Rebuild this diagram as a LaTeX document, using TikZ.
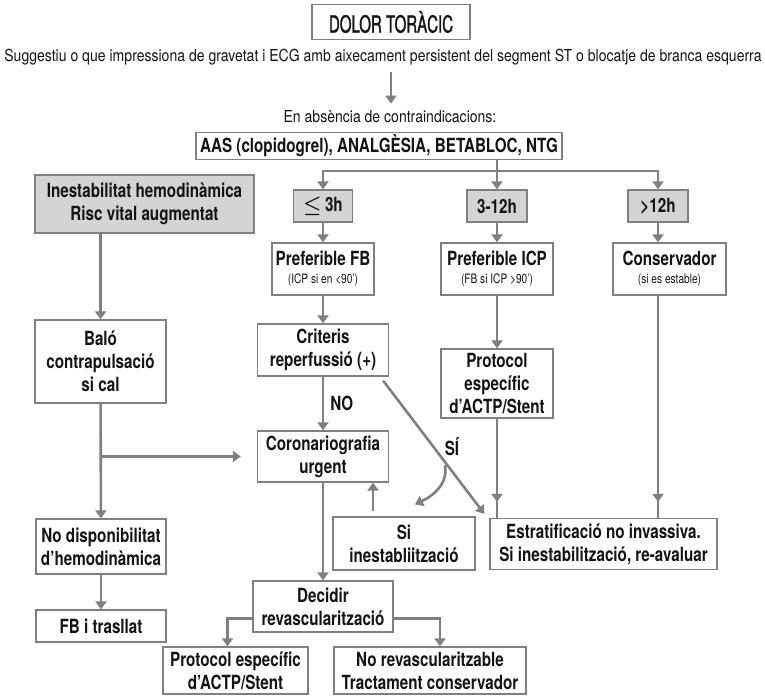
\documentclass[tikz,border=0pt]{standalone}
\usepackage{fontspec}
\setmainfont{TeX Gyre Heros}[FakeStretch=0.85]
\newfontfamily\boxfont{TeX Gyre Heros}[FakeStretch=0.78]
\newfontfamily\titlefont{TeX Gyre Heros}[FakeStretch=0.64, FakeBold=1.4]
\usetikzlibrary{arrows.meta, decorations.markings}
\definecolor{linegray}{RGB}{128,128,128}
\definecolor{boxgray}{RGB}{212,212,212}
\definecolor{ink}{RGB}{20,20,20}
\tikzset{
    box/.style = {draw=linegray, line width=1.3pt, fill=white, text=ink, align=center, inner sep=0pt,
        font=\boxfont\fontsize{19.5}{23}\selectfont\bfseries},
    shaded/.style = {box, fill=boxgray},
    plain/.style = {text=ink, inner sep=0pt, font=\fontsize{16.5}{18}\selectfont},
    tag/.style = {text=ink, inner sep=0pt, font=\boxfont\fontsize{19.5}{21}\selectfont\bfseries},
    link/.style = {draw=linegray, line width=2.6pt},
    flow/.style = {link, -{Triangle[width=11pt,length=8pt]}},
    midtip/.style = {link, postaction={decorate},
        decoration={markings, mark=at position #1 with {\arrow{Triangle[width=11pt,length=8pt]}}}},
}
\newcommand{\sm}[1]{{\fontsize{13}{14}\selectfont\mdseries #1}}

\begin{document}
\begin{tikzpicture}[x=1pt, y=-1pt]
    \useasboundingbox (0,0) rectangle (765,696);

    \node[box, font=\titlefont\fontsize{23.5}{25}\selectfont, minimum width=158pt, minimum height=35pt] (title) at (391,22) {DOLOR TORÀCIC};
    \node[plain] (sugg) at (383,57) {Suggestiu o que impressiona de gravetat i ECG amb aixecament persistent del segment ST o blocatje de branca esquerra};
    \node[plain] (absencia) at (390,117) {En absència de contraindicacions:};
    \node[box, minimum width=366pt, minimum height=27pt] (aas) at (379,146) {AAS (clopidogrel), ANALGÈSIA, BETABLOC, NTG};
    \coordinate (fork) at (497,171);

    \node[shaded, minimum width=219pt, minimum height=58pt] (inest) at (144.5,204) {Inestabilitat hemodinàmica\\Risc vital augmentat};
    \node[shaded, minimum width=59pt, minimum height=32pt] (le3) at (323,206) {{\boldmath$\leq$}\,3h};
    \node[shaded, minimum width=60pt, minimum height=32pt] (h312) at (497,206) {3-12h};
    \node[shaded, minimum width=60pt, minimum height=32pt] (h12) at (658,206) {>12h};

    \node[box, minimum width=102pt, minimum height=52pt] (preffb) at (323,269) {Preferible FB\\[-5pt]\sm{(ICP si en <90’)}};
    \node[box, minimum width=112pt, minimum height=52pt] (preficp) at (497,269) {Preferible ICP\\[-5pt]\sm{(FB si ICP >90’)}};
    \node[box, minimum width=113pt, minimum height=52pt] (conserv) at (669.5,269) {Conservador\\[-5pt]\sm{(si es estable)}};

    \node[box, minimum width=131pt, minimum height=83pt] (balo) at (100.5,361.5) {Baló\\contrapulsació\\si cal};
    \node[box, minimum width=131pt, minimum height=52pt] (criteris) at (323,350) {Criteris\\reperfussió (+)};
    \node[box, minimum width=112pt, minimum height=69pt] (protoc) at (497,383.5) {Protocol\\específic\\d’ACTP/Stent};
    \node[box, minimum width=131pt, minimum height=51pt] (corono) at (323,456.5) {Coronariografia\\urgent};

    \node[box, minimum width=130pt, minimum height=55pt] (nodisp) at (101,546.5) {No disponibilitat\\d’hemodinàmica};
    \node[box, minimum width=142pt, minimum height=53pt] (siinest) at (404,543.5) {Si\\inestabliització};
    \node[box, minimum width=227pt, minimum height=51pt] (estrat) at (603.5,544) {Estratificació no invassiva.\\Si inestabilització, re-avaluar};
    \node[box, minimum width=130pt, minimum height=32pt] (fb) at (101,626) {FB i trasllat};
    \node[box, minimum width=140pt, minimum height=51pt] (decidir) at (323,606.5) {Decidir\\revascularització};
    \node[box, minimum width=145pt, minimum height=47pt] (protocb) at (235.5,670.5) {Protocol específic\\d’ACTP/Stent};
    \node[box, minimum width=192pt, minimum height=47pt] (norevasc) at (430,670.5) {No revascularitzable\\Tractament conservador};

    \draw[flow] ([yshift=-7pt]sugg.south -| title.south) -- ([yshift=7pt]absencia.north -| title.south);
    \draw[link] (aas.south -| fork) -- (fork);
    \draw[flow] (fork) -| (le3.north);
    \draw[flow] (fork) -- (h312.north);
    \draw[flow] (fork) -| (h12.north);
    \draw[flow] (le3) -- (preffb);
    \draw[flow] (h312) -- (preficp);
    \draw[flow] (h12) -- (h12 |- conserv.north);
    \draw[flow] (preffb) -- (criteris);
    \draw[flow] (preficp) -- (protoc);
    \draw[midtip=-16pt] (protoc.south) -- (estrat.north -| protoc.south);
    \draw[midtip=-16pt] (conserv.south -| h12) -- (estrat.north -| h12);

    \draw[flow] (inest.south -| balo) -- (balo.north);
    \draw[flow] (balo) -- (nodisp);
    \draw[flow, shorten >=16pt] (balo.south |- corono.west) -- (corono.west);
    \draw[flow] (nodisp) -- (fb);

    \draw[flow] (criteris) -- node[tag, right=6pt] {NO} (corono);
    \draw[flow] ([xshift=-6pt,yshift=-4pt]criteris.south east) -- ([xshift=-5pt,yshift=4pt]estrat.north west);
    \node[tag] (silbl) at (452,447) {SÍ};
    \draw[flow] ([shift={(-7pt,-9pt)}]silbl.south) to[out=-80, in=25] ([shift={(11pt,12pt)}]siinest.north);
    \draw[flow] ([xshift=-31pt,yshift=5pt]siinest.north) -- ([xshift=-31pt]siinest.north |- corono.south);

    \draw[flow] (corono) -- (decidir);
    \draw[flow] ([yshift=-12pt]decidir.west) -| ([xshift=-8pt]protocb.north);
    \draw[flow] ([yshift=-12pt]decidir.east) -| ([xshift=10pt]norevasc.north);
\end{tikzpicture}
\end{document}
